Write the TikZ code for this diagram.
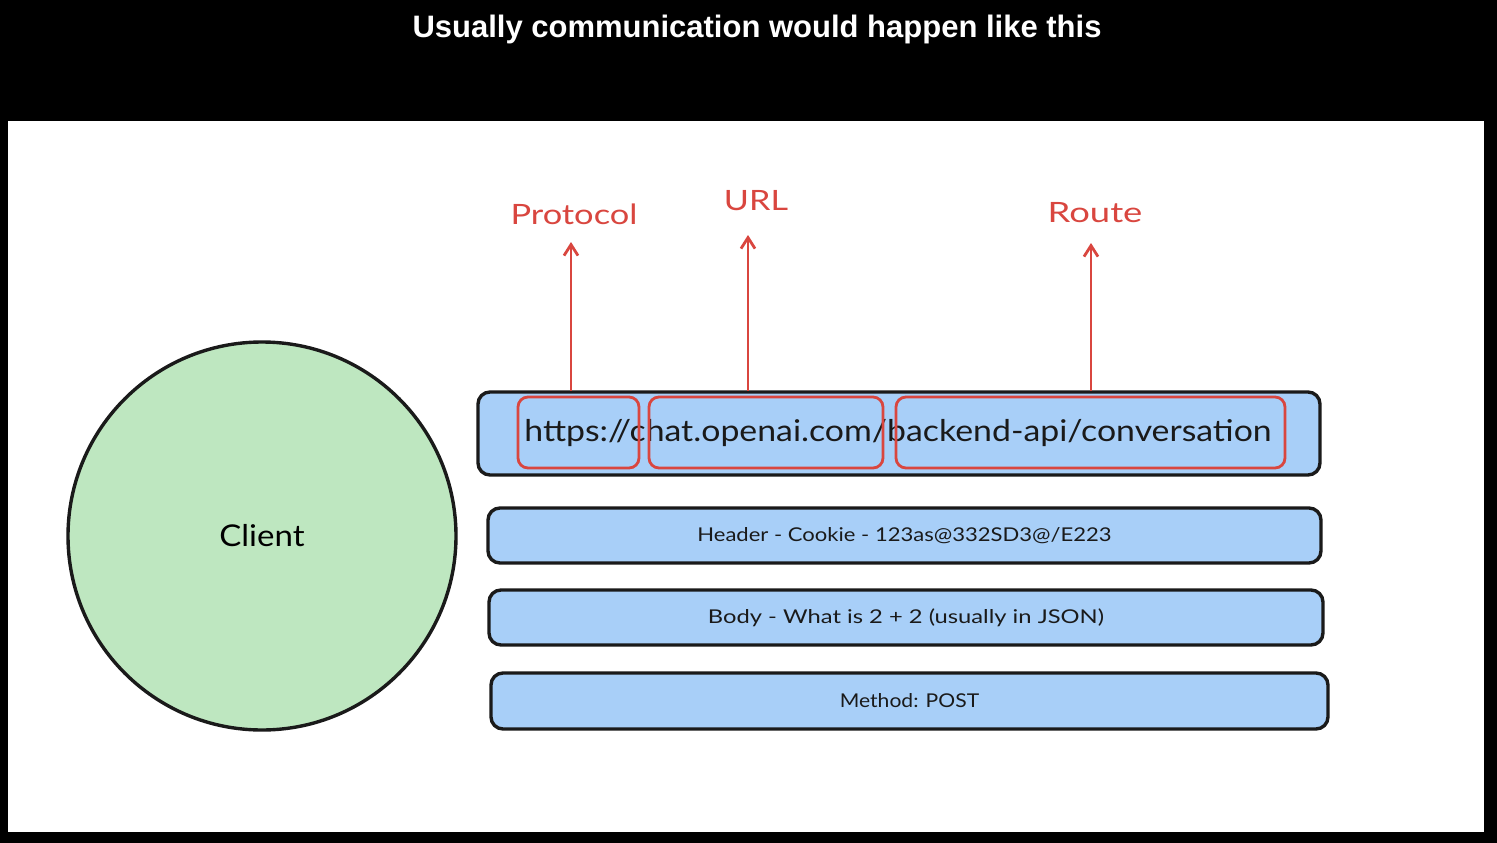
\documentclass[tikz,border=0pt]{standalone}
\usepackage{fontspec}
\usepackage{graphicx}
\setmainfont{Liberation Sans}
\newfontfamily\handfont{Lato}
\usetikzlibrary{arrows.meta,calc}
\definecolor{boxblue}{HTML}{A8CFF8}
\definecolor{clientgreen}{HTML}{BEE7C0}
\definecolor{annred}{HTML}{D9463F}
\definecolor{inkblack}{HTML}{1A1A1A}
\newcommand{\widen}[2]{\scalebox{#1}[1]{#2}}
\tikzset{
  bar/.style={draw=inkblack, line width=3.4pt, fill=boxblue, rounded corners=12pt},
  redbox/.style={draw=annred, line width=2.8pt, rounded corners=10pt},
  redarrow/.style={draw=annred, line width=2.8pt, -{Straight Barb[length=11pt,width=14pt,line width=2.8pt]}},
  redlabel/.style={text=annred, font=\handfont\fontsize{28}{30}\selectfont, inner sep=0pt},
  bartext/.style={text=inkblack, font=\handfont\fontsize{19}{22}\selectfont},
}
\begin{document}
\begin{tikzpicture}[x=1pt,y=-1pt]
\fill[black] (0,0) rectangle (1497,843);
\useasboundingbox (0,0) rectangle (1497,843);
\fill[white] (8,121) rectangle (1484,832);
\node[text=white, font=\bfseries\fontsize{31}{34}\selectfont, inner sep=0pt] (title) at (757,29) {Usually communication would happen like this};

% client
\node[circle, draw=inkblack, line width=3.4pt, fill=clientgreen, minimum size=388pt, inner sep=0pt,
      font=\handfont\fontsize{30}{32}\selectfont] (client) at (262,536) {\widen{1.1}{Client}};

% url bar
\node[bar, minimum width=842pt, minimum height=83pt, inner sep=0pt] (urlbar) at (899,433.5) {};
\node[text=inkblack, font=\handfont\fontsize{30}{32}\selectfont, inner sep=0pt] (urltext) at (898,433) {\widen{1.127}{https://chat.openai.com/backend-api/conversation}};
\node[redbox, minimum width=121pt, minimum height=71pt, inner sep=0pt] (proto) at (578.5,432.5) {};
\node[redbox, minimum width=234pt, minimum height=71pt, inner sep=0pt] (domain) at (766,432.5) {};
\node[redbox, minimum width=389pt, minimum height=71pt, inner sep=0pt] (route) at (1090.5,432.5) {};

% labels
\node[redlabel] (protolabel) at (574,214) {\widen{1.23}{Protocol}};
\node[redlabel] (urllabel) at (756,201) {\widen{1.22}{URL}};
\node[redlabel] (routelabel) at (1095,213) {\widen{1.3}{Route}};

\coordinate (a1) at (proto.north -| 571,0);
\coordinate (a2) at (domain.north -| 748,0);
\coordinate (a3) at (route.north -| 1091,0);
\draw[redarrow] ($(a1)+(0,-5)$) -- (a1 |- 0,242);
\draw[redarrow] ($(a2)+(0,-5)$) -- (a2 |- 0,235);
\draw[redarrow] ($(a3)+(0,-5)$) -- (a3 |- 0,243);

% other bars
\node[bar, minimum width=833pt, minimum height=55pt, bartext] (header) at (904.5,535.5) {\widen{1.16}{Header - Cookie - 123as@332SD3@/E223}};
\node[bar, minimum width=834pt, minimum height=55pt, bartext] (body) at (906,617.5) {\widen{1.25}{Body - What is 2 + 2 (usually in JSON)}};
\node[bar, minimum width=837pt, minimum height=56pt, bartext] (method) at (909.5,701) {\widen{1.11}{Method: POST}};
\end{tikzpicture}
\end{document}
